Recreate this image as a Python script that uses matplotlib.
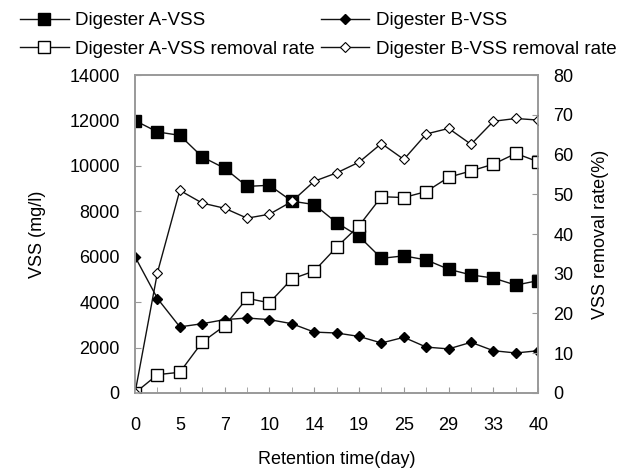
import matplotlib
matplotlib.use("Agg")
import matplotlib.pyplot as plt
import numpy as np

plt.rcParams['font.family'] = ['Liberation Sans', 'DejaVu Sans']
plt.rcParams['font.size'] = 13

# category labels (every other category is labelled on the axis)
tick_labels = ['0', '5', '7', '10', '14', '19', '25', '29', '33', '40']
n_points = 19

a_vss = [12000, 11500, 11350, 10400, 9900, 9100, 9150, 8450, 8300, 7500,
         6900, 5930, 6040, 5860, 5450, 5200, 5060, 4750, 4950]
b_vss = [6000, 4160, 2910, 3050, 3230, 3300, 3230, 3050, 2680, 2640,
         2490, 2200, 2450, 2020, 1940, 2230, 1860, 1760, 1860]
a_rate = [0, 4.6, 5.2, 12.8, 16.9, 23.8, 22.7, 28.7, 30.7, 36.7,
          42.1, 49.4, 49.2, 50.7, 54.3, 55.9, 57.6, 60.3, 58.2]
b_rate = [0, 30.3, 51.0, 47.8, 46.5, 44.0, 45.0, 48.2, 53.3, 55.4,
          58.1, 62.8, 58.8, 65.2, 66.6, 62.6, 68.4, 69.1, 68.7]

x = np.arange(n_points)

fig = plt.figure(figsize=(6.4, 4.7), dpi=100)
ax = fig.add_axes([0.211, 0.164, 0.630, 0.676])
ax2 = ax.twinx()

lc = '#111111'
l1, = ax.plot(x, a_vss, color=lc, lw=1, marker='s', ms=8, mfc='black', mec='black')
l2, = ax.plot(x, b_vss, color=lc, lw=1, marker='D', ms=5.5, mfc='black', mec='black')
l3, = ax2.plot(x, a_rate, color=lc, lw=1, marker='s', ms=8, mfc='white', mec='black')
l4, = ax2.plot(x, b_rate, color=lc, lw=1, marker='D', ms=5.5, mfc='white', mec='black', mew=0.8)

ax.set_xlim(0, n_points - 1)
ax.set_ylim(0, 14000)
ax2.set_ylim(0, 80)
ax.set_yticks(np.arange(0, 14001, 2000))
ax2.set_yticks(np.arange(0, 81, 10))
ax.set_xticks(x, minor=True)
ax.set_xticks(x[::2])
ax.set_xticklabels(tick_labels)

for a in (ax, ax2):
    for s in a.spines.values():
        s.set_color('#999999')
        s.set_linewidth(1.2)
    a.tick_params(direction='in', length=4, color='#999999', pad=11)
    a.tick_params(which='minor', direction='in', length=4, color='#999999')
ax.tick_params(axis='x', pad=17)

ax.set_xlabel('Retention time(day)', va='center')
ax.set_ylabel('VSS (mg/l)', va='center')
ax2.set_ylabel('VSS removal rate(%)', va='center')
ax.xaxis.set_label_coords(0.5, -0.208)
ax.yaxis.set_label_coords(-0.241, 0.5)
ax2.yaxis.set_label_coords(1.154, 0.5)

# matplotlib fills legend columns first, so order handles to read row-wise
fig.legend([l1, l3, l2, l4],
           ['Digester A-VSS', 'Digester A-VSS removal rate',
            'Digester B-VSS', 'Digester B-VSS removal rate'],
           loc='upper left', bbox_to_anchor=(0.005, 1.01), ncol=2, frameon=False,
           fontsize=13.5, handlelength=2.6, columnspacing=0.3,
           handletextpad=0.35, labelspacing=0.6)

fig.savefig('out.png', dpi=100)
